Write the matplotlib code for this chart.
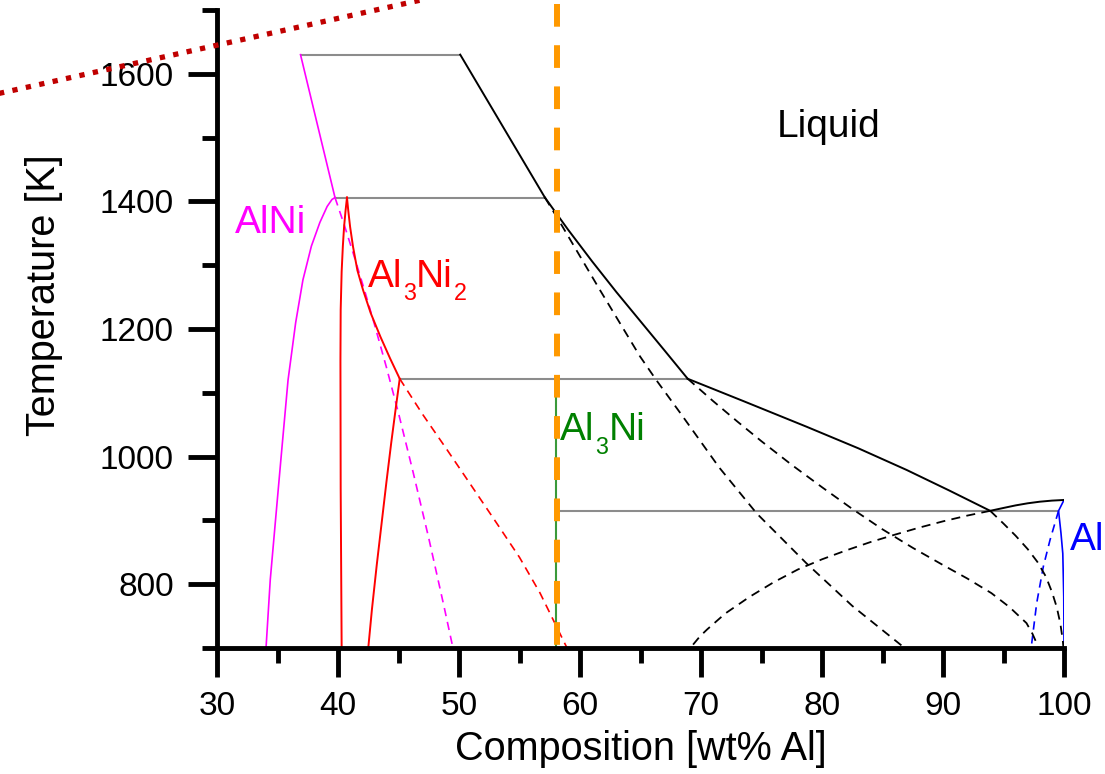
import matplotlib.pyplot as plt
from matplotlib.lines import Line2D
from matplotlib.ticker import MultipleLocator

plt.rcParams['font.family'] = ['Liberation Sans', 'DejaVu Sans']

# --- datos leidos del diagrama (composicion en wt% Al, temperatura en K) ---
# lineas de enlace horizontales (gris)
tie_T = [1630, 1406, 1122, 915]
tie_x0 = [36.9, 39.75, 45.1, 58.1]
tie_x1 = [50.1, 57.1, 68.9, 99.55]

# AlNi (magenta)
alni_liq_x = [36.9, 39.75]
alni_liq_T = [1630, 1406]
alni_solv_x = [34.05, 34.4, 34.8, 35.3, 35.87, 36.5, 37.1, 37.8, 38.5, 39.1, 39.5, 39.75]
alni_solv_T = [700, 807, 893, 1000, 1120, 1210, 1277, 1330, 1367, 1392, 1403, 1406]
alni_meta_x = [39.75, 40.5, 41.3, 42.2, 43.0, 44.0, 45.0, 46.2, 47.5, 48.75, 49.5]
alni_meta_T = [1406, 1364, 1316, 1260, 1208, 1140, 1068, 976, 872, 766, 700]

# Al3Ni2 (rojo)
al3ni2_left_x = [40.74, 40.62, 40.5, 40.4, 40.3, 40.22, 40.2, 40.22, 40.3]
al3ni2_left_T = [1406, 1385, 1360, 1330, 1290, 1230, 1150, 950, 700]
al3ni2_up_x = [40.74, 40.85, 41.0, 41.24, 41.6, 42.07, 42.7, 43.5, 44.3, 45.1]
al3ni2_up_T = [1406, 1385, 1360, 1329, 1292, 1261, 1225, 1188, 1154, 1122]
al3ni2_low_x = [42.5, 42.8, 43.2, 43.6, 44.0, 44.4, 44.8, 45.1]
al3ni2_low_T = [700, 760, 830, 895, 960, 1022, 1080, 1122]
al3ni2_meta_x = [45.1, 47.0, 49.0, 51.0, 53.1, 55.0, 56.7, 58.9]
al3ni2_meta_T = [1122, 1066, 1011, 955, 896, 842, 786, 701]

# Al3Ni (verde)
al3ni_x = [58.0, 58.0]
al3ni_T = [1122, 700]

# Al (azul)
al_solid_x = [100.0, 99.55, 99.75, 99.9, 99.98, 100.0]
al_solid_T = [932, 915, 880, 848, 780, 700]
al_meta_x = [99.55, 98.84, 98.29, 97.74, 97.33]
al_meta_T = [915, 869, 827.5, 770, 707]

# liquidus (negro)
liq1_x = [50.1, 57.1]
liq1_T = [1630, 1406]
liq2_x = [57.1, 59.0, 61.0, 63.0, 65.0, 67.0, 68.9]
liq2_T = [1406, 1356, 1306, 1258, 1212, 1166, 1122]
liq3_x = [68.9, 73.5, 78.7, 83.0, 87.0, 90.5, 93.9]
liq3_T = [1122, 1087, 1047, 1013, 979, 947, 915]
liq4_x = [93.9, 95.0, 96.0, 97.0, 98.0, 99.0, 100.0]
liq4_T = [915, 919.5, 923.5, 926.8, 929.3, 931, 932]

# extensiones metaestables del liquidus (negro discontinuo)
d1_x = [57.1, 58.35, 61.65, 64.96, 66.3, 68.3, 71.5, 74.6, 78.7, 82.5, 86.7]
d1_T = [1406, 1367, 1261, 1157, 1120, 1068, 983, 911, 833, 766, 702]
d2_x = [68.9, 71.0, 73.0, 75.0, 77.5, 80.0, 82.5, 85.0, 87.5, 90.0, 92.0, 94.0,
        95.5, 96.9, 97.4, 97.75, 97.85]
d2_T = [1122, 1087, 1055, 1024, 987, 952, 918, 886, 857, 830, 809, 786,
        764, 739, 722, 707, 700]
d3_x = [93.9, 95.0, 96.0, 97.0, 97.8, 98.5, 99.0, 99.4, 99.7, 99.9, 99.95]
d3_T = [915, 895, 876, 855, 835, 812, 788, 764, 738, 712, 700]
d4_x = [93.9, 92.0, 90.0, 88.0, 86.0, 84.0, 82.0, 80.0, 78.0, 76.0, 74.0, 72.0,
        70.5, 69.9, 69.2]
d4_T = [915, 907.5, 898.5, 888.5, 877.5, 866, 853, 839, 823, 803, 780, 754,
        729, 718, 702]

# linea vertical naranja
comp_x = 58.1
comp_T = [1709, 681]

# linea punteada roja (coordenadas de figura)
dot_x = [-0.005, 0.40]
dot_y = [0.878, 1.006]

fig = plt.figure(figsize=(11.05, 7.74), dpi=100)
ax = fig.add_axes([0.1964, 0.1628, 0.7665, 0.8243])

dash = (0, (5, 3.5))

ax.hlines(tie_T, tie_x0, tie_x1, color='#8c8c8c', lw=1.5)

ax.plot(alni_liq_x, alni_liq_T, color='#ff00ff', lw=1.2)
ax.plot(alni_solv_x, alni_solv_T, color='#ff00ff', lw=1.2)
ax.plot(alni_meta_x, alni_meta_T, color='#ff00ff', lw=1.2, ls=dash)

ax.plot(al3ni2_left_x, al3ni2_left_T, color='#ff0000', lw=1.4)
ax.plot(al3ni2_up_x, al3ni2_up_T, color='#ff0000', lw=1.4)
ax.plot(al3ni2_low_x, al3ni2_low_T, color='#ff0000', lw=1.4)
ax.plot(al3ni2_meta_x, al3ni2_meta_T, color='#ff0000', lw=1.2, ls=dash)

ax.plot(al3ni_x, al3ni_T, color='#3a9a3a', lw=1.5)

ax.plot(al_solid_x, al_solid_T, color='#0000ff', lw=1.2)
ax.plot(al_meta_x, al_meta_T, color='#0000ff', lw=1.2, ls=dash)

for xs, ts in [(liq1_x, liq1_T), (liq2_x, liq2_T), (liq3_x, liq3_T), (liq4_x, liq4_T)]:
    ax.plot(xs, ts, color='black', lw=1.4)
for xs, ts in [(d1_x, d1_T), (d2_x, d2_T), (d3_x, d3_T), (d4_x, d4_T)]:
    ax.plot(xs, ts, color='black', lw=1.3, ls=dash)

ax.plot([comp_x, comp_x], comp_T, color='#ff9900', lw=4.3,
        ls=(0, (3.8, 3.1)), clip_on=False, zorder=5)


def formula(x, y, parts, color, size=28):
    # texto con subindices armado por piezas
    main = ax.text(x, y, parts[0][0], color=color, fontsize=size, va='baseline')
    prev = main
    for txt, sub in parts[1:]:
        if sub:
            prev = ax.annotate(txt, xy=(1, 0), xycoords=(prev, main), xytext=(0.3, -4),
                               textcoords='offset points', fontsize=size * 0.6,
                               color=color, va='baseline')
        else:
            prev = ax.annotate(txt, xy=(1, 0), xycoords=(prev, main), xytext=(0.3, 0),
                               textcoords='offset points', fontsize=size,
                               color=color, va='bottom')


ax.text(76.28, 1501.6, 'Liquid', color='black', fontsize=28, va='baseline')
ax.text(31.49, 1351, 'AlNi', color='#ff00ff', fontsize=28, va='baseline')
formula(42.48, 1266, [('Al', False), ('3', True), ('Ni', False), ('2', True)], '#ff0000')
formula(58.35, 1026, [('Al', False), ('3', True), ('Ni', False)], '#008000')
ax.text(100.5, 853.7, 'Al', color='#0000ff', fontsize=28, va='baseline')

ax.set_xlim(30, 100)
ax.set_ylim(700, 1700)
ax.spines['top'].set_visible(False)
ax.spines['right'].set_visible(False)
ax.spines['left'].set_linewidth(3.5)
ax.spines['bottom'].set_linewidth(3.5)
ax.xaxis.set_major_locator(MultipleLocator(10))
ax.xaxis.set_minor_locator(MultipleLocator(5))
ax.yaxis.set_major_locator(MultipleLocator(200))
ax.yaxis.set_minor_locator(MultipleLocator(100))
ax.tick_params(which='major', direction='out', length=21, width=3.5, labelsize=24, pad=10)
ax.tick_params(which='minor', direction='out', length=11, width=3.5)

ax.set_xlabel('Composition [wt% Al]', fontsize=28.5, labelpad=6)
ax.set_ylabel('Temperature [K]', fontsize=28.5)
ax.yaxis.set_label_coords(-0.182, 0.553)

fig.add_artist(Line2D(dot_x, dot_y, transform=fig.transFigure, color='#c00000',
                      lw=3.8, ls=(0, (1, 1.6)), zorder=10))

fig.savefig('out.png', dpi=100)
